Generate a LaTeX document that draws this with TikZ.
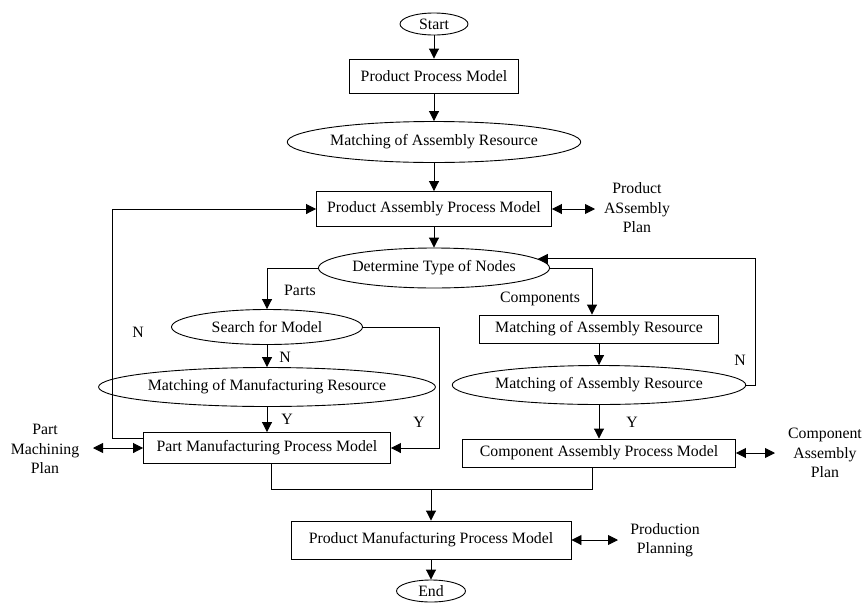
\documentclass[tikz,border=0pt]{standalone}
\usepackage{fontspec}
\setmainfont{Liberation Serif}
\usetikzlibrary{shapes.geometric,arrows.meta,calc}
\begin{document}
\begin{tikzpicture}[x=1pt,y=-1pt,
  font=\fontsize{15.8}{19.5}\selectfont,
  line width=0.9pt,
  boxn/.style={draw,rectangle,inner sep=0pt},
  ell/.style={draw,ellipse,inner sep=0pt},
  lbl/.style={inner sep=0pt,align=center},
  arr/.style={-{Triangle[length=10pt,width=10pt]}},
  darr/.style={{Triangle[length=10pt,width=10pt]}-{Triangle[length=10pt,width=10pt]}}]
\useasboundingbox (0,0) rectangle (863,611);
% main column
\node[ell,minimum width=68,minimum height=22] (start) at (434,24) {Start};
\node[boxn,minimum width=169,minimum height=34] (ppm) at (434,76) {Product Process Model};
\node[ell,minimum width=269,minimum height=41] (mar) at (434,142) {Matching of Assembly Resource};
\node[boxn,minimum width=235,minimum height=35] (pap) at (434,209) {Product Assembly Process Model};
\node[ell,minimum width=222,minimum height=40] (dtn) at (434,268) {Determine Type of Nodes};
% left branch
\node[ell,minimum width=191,minimum height=35] (sfm) at (267,327) {Search for Model};
\node[ell,minimum width=299,minimum height=39] (mmr) at (267,387) {Matching of Manufacturing Resource};
\node[boxn,minimum width=247,minimum height=31] (pmp) at (267,448) {Part Manufacturing Process Model};
% right branch
\node[boxn,minimum width=239,minimum height=28] (mab) at (599,329) {Matching of Assembly Resource};
\node[ell,minimum width=268,minimum height=39] (mae) at (599,385) {Matching of Assembly Resource};
\node[boxn,minimum width=273,minimum height=28] (cap) at (599,453) {Component Assembly Process Model};
% bottom
\node[boxn,minimum width=280,minimum height=38] (pmfg) at (431,540) {Product Manufacturing Process Model};
\node[ell,minimum width=69,minimum height=22] (end) at (431,591) {End};
% side labels
\node[lbl] (papplan) at (637,208) {Product\\ASsembly\\Plan};
\node[lbl] (pmplan) at (45,449) {Part\\Machining\\Plan};
\node[lbl] (caplan) at (825,453) {Component\\Assembly\\Plan};
\node[lbl] (pplan) at (665,540) {Production\\Planning};
\node[lbl] (parts) at (300,290) {Parts};
\node[lbl] (comps) at (540,299) {Components};
\node[lbl] (n1) at (285,357) {N};
\node[lbl] (y1) at (287,419) {Y};
\node[lbl] (y2) at (419,422) {Y};
\node[lbl] (n2) at (138,332) {N};
\node[lbl] (n3) at (740,360) {N};
\node[lbl] (y3) at (632,422) {Y};
% coordinates
\coordinate (papA) at (595,209);
\coordinate (pmpA) at (93,448);
\coordinate (capA) at (775,453);
\coordinate (pmfgA) at (618,540);
\coordinate (fbx) at (755,0);
\coordinate (yx) at (439,0);
\coordinate (merge) at (431,489);
% connectors
\draw[arr] (start) -- (ppm);
\draw[arr] (ppm) -- (mar);
\draw[arr] (mar) -- (pap);
\draw[arr] (pap) -- (dtn);
\draw[darr] (pap.east) -- (papA);
\draw[arr] (dtn.west) -| (sfm);
\draw[arr] (dtn.east) -| ([xshift=-7pt]mab.north);
\draw[arr] (sfm) -- (mmr);
\draw[arr] (mmr) -- (pmp);
\draw[arr] (sfm.east) -- (sfm.east -| yx) |- (pmp.east);
\draw[arr] ([yshift=10pt]pmp.west) -- ++(-31,0) |- (pap.west);
\draw[darr] (pmpA) -- (pmp.west);
\draw[arr] (mab) -- (mae);
\draw[arr] (mae) -- (cap);
\draw[arr] (mae.east) -- (mae.east -| fbx) |- (dtn.5);
\draw[darr] (cap.east) -- (capA);
\draw ([xshift=4pt]pmp.south) -- ++(0,25) -| ([xshift=-7pt]cap.south);
\draw[arr] (merge) -- (pmfg);
\draw[darr] (pmfg.east) -- (pmfgA);
\draw[arr] (pmfg) -- (end);
\end{tikzpicture}
\end{document}
